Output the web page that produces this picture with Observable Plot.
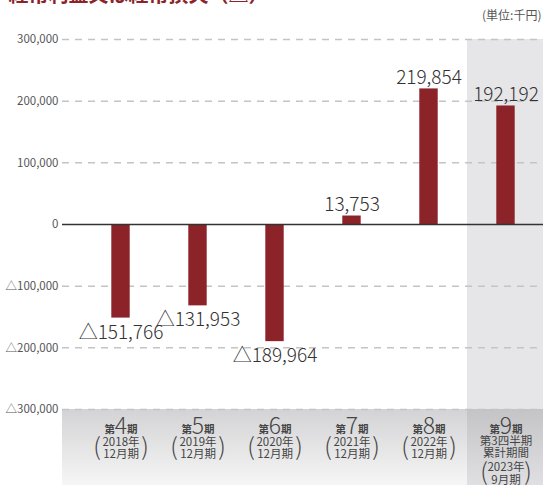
<!DOCTYPE html>
<html><head><meta charset="utf-8">
<script src="https://cdn.jsdelivr.net/npm/d3@7"></script>
<script src="https://cdn.jsdelivr.net/npm/@observablehq/plot@0.6"></script>
<style>body{margin:0;background:#fff;} svg{display:block;}</style>
</head><body><div id="chart"></div>
<script>
const categories = ["第4期","第5期","第6期","第7期","第8期","第9期"];
const periodNums = ["4","5","6","7","8","9"];
const values = [-151766, -131953, -189964, 13753, 219854, 192192];
const yearLines = ["2018年","2019年","2020年","2021年","2022年","2023年"];
const monthLines = ["12月期","12月期","12月期","12月期","12月期","9月期"];
const q9Lines = ["第3四半期","累計期間"];
const yTicks = [-300000,-200000,-100000,0,100000,200000,300000];
const titleText = "経常利益又は経常損失（△）";
const unitText = "(単位:千円)";

const data = categories.map((c,i)=>({cat:c, num:periodNums[i], value:values[i], year:yearLines[i], month:monthLines[i]}));
const fmt = v => v < 0 ? "△" + d3.format(",")(-v) : d3.format(",")(v);
const FONT = "'Noto Sans CJK JP','Noto Sans',sans-serif";
const regular = data.slice(0,5);
const last = data.slice(5);
const lowY = -300000;

const plot = Plot.plot({
  width: 543, height: 485,
  marginTop: 39, marginBottom: 76, marginLeft: 80, marginRight: -2.5,
  style: {fontFamily: FONT, background: "white", overflow: "visible"},
  x: {type: "band", domain: categories, padding: 0, axis: null},
  y: {domain: [-300000, 300000], axis: null},
  marks: [
    Plot.rect([lowY], {y1: d=>d, y2: d=>d, insetBottom: -76, insetLeft: -18, fill: "url(#gStrip)"}),
    Plot.barY(last, {x: "cat", y1: 300000, y2: lowY, fill: "#e6e6e8"}),
    Plot.barY(last, {x: "cat", y1: lowY, y2: lowY, insetBottom: -76, fill: "url(#gBand)"}),
    Plot.ruleY(yTicks.filter(t=>t!==0), {stroke: "#c4c4c6", strokeWidth: 1.5, strokeDasharray: "7,6", insetLeft: -18}),
    Plot.axisY(yTicks, {label: null, tickSize: 0, tickPadding: 22, tickFormat: fmt, fontSize: 11.5, fill: "#555"}),
    Plot.barY(data, {x: "cat", y: "value", fill: "#8b2329", insetLeft: 29.3, insetRight: 29.3}),
    Plot.ruleY([0], {stroke: "#333", strokeWidth: 1.5, insetLeft: -18}),
    Plot.text(data.filter(d=>d.value>=0), {x: "cat", y: "value", text: d=>fmt(d.value), lineAnchor: "bottom", dy: -5, fontSize: 19, fontWeight: 300, fill: "#333"}),
    Plot.text(data.filter(d=>d.value<0), {x: "cat", y: "value", text: d=>fmt(d.value), lineAnchor: "top", dy: 7, fontSize: 19, fontWeight: 300, fill: "#333"}),
    Plot.text(data, {x: "cat", y: ()=>lowY, text: "num", lineAnchor: "bottom", dy: 24, fontSize: 23, fontWeight: 200, fill: "#444"}),
    Plot.text(data, {x: "cat", y: ()=>lowY, text: ()=>"第", textAnchor: "end", lineAnchor: "bottom", dx: -6, dy: 23, fontSize: 10.5, fontWeight: 700, fill: "#444"}),
    Plot.text(data, {x: "cat", y: ()=>lowY, text: ()=>"期", textAnchor: "start", lineAnchor: "bottom", dx: 6, dy: 23, fontSize: 10.5, fontWeight: 700, fill: "#444"}),
    Plot.text(regular, {x: "cat", y: ()=>lowY, text: "year", lineAnchor: "bottom", dy: 36, fontSize: 11.5, fill: "#444"}),
    Plot.text(regular, {x: "cat", y: ()=>lowY, text: "month", lineAnchor: "bottom", dy: 48, fontSize: 11.5, fill: "#444"}),
    Plot.text(regular, {x: "cat", y: ()=>lowY, text: ()=>"(", lineAnchor: "bottom", dx: -24, dy: 45, fontSize: 24, fontWeight: 200, fill: "#444"}),
    Plot.text(regular, {x: "cat", y: ()=>lowY, text: ()=>")", lineAnchor: "bottom", dx: 24, dy: 45, fontSize: 24, fontWeight: 200, fill: "#444"}),
    Plot.text(last, {x: "cat", y: ()=>lowY, text: ()=>q9Lines[0], lineAnchor: "bottom", dy: 35, fontSize: 11.5, fill: "#444"}),
    Plot.text(last, {x: "cat", y: ()=>lowY, text: ()=>q9Lines[1], lineAnchor: "bottom", dy: 47.5, fontSize: 11.5, fill: "#444"}),
    Plot.text(last, {x: "cat", y: ()=>lowY, text: "year", lineAnchor: "bottom", dy: 61, fontSize: 11.5, fill: "#444"}),
    Plot.text(last, {x: "cat", y: ()=>lowY, text: "month", lineAnchor: "bottom", dy: 74, fontSize: 11.5, fill: "#444"}),
    Plot.text(last, {x: "cat", y: ()=>lowY, text: ()=>"(", lineAnchor: "bottom", dx: -22, dy: 70, fontSize: 24, fontWeight: 200, fill: "#444"}),
    Plot.text(last, {x: "cat", y: ()=>lowY, text: ()=>")", lineAnchor: "bottom", dx: 22, dy: 70, fontSize: 24, fontWeight: 200, fill: "#444"}),
    Plot.text([titleText], {frameAnchor: "top-left", text: d=>d, textAnchor: "start", lineAnchor: "bottom", dx: -72, dy: -38, fontSize: 20, fontWeight: 700, fill: "#8b2329"}),
    Plot.text([unitText], {frameAnchor: "top-right", text: d=>d, textAnchor: "end", lineAnchor: "bottom", dx: -4.5, dy: -20, fontSize: 12, fill: "#555"})
  ]
});

const defs = d3.select(plot).insert("defs", ":first-child");
const g1 = defs.append("linearGradient").attr("id","gStrip").attr("x1",0).attr("y1",0).attr("x2",0).attr("y2",1);
g1.append("stop").attr("offset","0%").attr("stop-color","#d3d3d5");
g1.append("stop").attr("offset","100%").attr("stop-color","#f6f6f6");
const g2 = defs.append("linearGradient").attr("id","gBand").attr("x1",0).attr("y1",0).attr("x2",0).attr("y2",1);
g2.append("stop").attr("offset","0%").attr("stop-color","#c4c4c6");
g2.append("stop").attr("offset","100%").attr("stop-color","#e0e0e2");

document.getElementById("chart").appendChild(plot);
</script>
</body></html>
